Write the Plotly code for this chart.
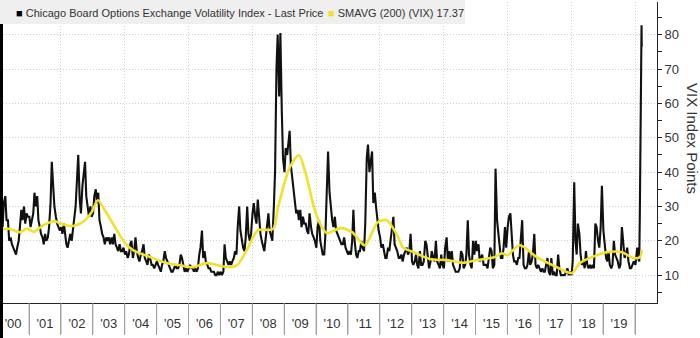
import plotly.graph_objects as go

# ---------------- data ----------------
years = list(range(2000, 2020))

# two readings per month (1st half, 2nd half), Jan..Dec
vix_2000 = [23, 24, 22, 25, 24, 31, 33, 26, 26, 20, 21, 19, 18, 17, 16, 18, 20, 24, 29, 26, 30, 25, 28, 27]
vix_2001 = [27, 24, 26, 28, 34, 30, 33, 26, 24, 22, 21, 19, 22, 20, 21, 24, 31, 43, 36, 30, 27, 25, 24, 23]
vix_2002 = [24, 22, 25, 21, 19, 18, 21, 22, 20, 23, 26, 30, 38, 45, 32, 28, 36, 40, 43, 33, 29, 27, 30, 27]
vix_2003 = [28, 33, 35, 31, 34, 26, 24, 22, 21, 19, 21, 20, 21, 19, 21, 19, 22, 19, 18, 17, 19, 17, 17, 18]
vix_2004 = [16, 17, 15, 16, 19, 20, 15, 17, 21, 17, 15, 14, 16, 17, 19, 15, 14, 13, 16, 15, 13, 13, 12, 13]
vix_2005 = [14, 13, 12, 11, 13, 14, 17, 15, 14, 13, 12, 11, 11, 12, 13, 12, 12, 13, 16, 15, 12, 11, 12, 11]
vix_2006 = [12, 13, 12, 12, 11, 12, 11, 12, 16, 18, 23, 15, 17, 14, 13, 12, 12, 11, 11, 11, 10, 10, 11, 10]
vix_2007 = [11, 10, 11, 19, 15, 14, 13, 14, 13, 14, 15, 17, 16, 24, 30, 23, 20, 18, 17, 21, 30, 22, 20, 22]
vix_2008 = [28, 31, 27, 25, 32, 26, 22, 20, 18, 17, 21, 24, 28, 23, 21, 20, 30, 40, 70, 80, 62, 80.5, 58, 44]
vix_2009 = [40, 47, 45, 50, 52, 42, 38, 35, 32, 28, 29, 26, 29, 24, 27, 25, 25, 23, 22, 28, 24, 22, 21, 20]
vix_2010 = [18, 24, 26, 20, 18, 16, 16, 22, 35, 46, 34, 29, 26, 24, 27, 23, 22, 21, 20, 19, 19, 21, 18, 17]
vix_2011 = [16, 17, 16, 20, 29, 20, 16, 15, 17, 17, 20, 18, 17, 25, 44, 48, 40, 43, 46, 31, 34, 30, 26, 23]
vix_2012 = [21, 18, 19, 17, 15, 15, 18, 17, 20, 24, 27, 19, 18, 17, 15, 15, 16, 14, 16, 17, 18, 16, 17, 22]
vix_2013 = [14, 13, 14, 16, 13, 12, 17, 13, 13, 14, 20, 19, 14, 12, 14, 17, 15, 14, 20, 14, 13, 12, 16, 13]
vix_2014 = [12, 18, 21, 14, 17, 14, 17, 13, 12, 11, 11, 11, 12, 17, 16, 12, 13, 16, 26, 16, 13, 12, 20, 16]
vix_2015 = [20, 17, 19, 14, 15, 16, 13, 13, 13, 12, 15, 18, 17, 12, 13, 41, 26, 22, 17, 15, 15, 18, 24, 18]
vix_2016 = [24, 27, 28, 21, 16, 14, 14, 13, 15, 15, 20, 26, 13, 12, 12, 13, 17, 13, 14, 16, 22, 13, 12, 13]
vix_2017 = [12, 11, 12, 11, 11, 13, 15, 11, 10, 15, 10, 11, 10, 10, 16, 12, 10, 10, 10, 10, 11, 12, 10, 11]
vix_2018 = [10, 14, 37, 20, 16, 25, 22, 16, 13, 14, 12, 17, 13, 12, 13, 12, 13, 12, 25, 24, 20, 18, 24, 36]
vix_2019 = [23, 18, 15, 14, 17, 13, 12, 13, 20, 16, 15, 14, 12, 13, 24, 19, 15, 16, 18, 14, 12, 12, 13, 14]

vix_2020_dates = ["2020-01-06", "2020-01-27", "2020-02-04", "2020-02-19", "2020-02-25",
                  "2020-02-28", "2020-03-09", "2020-03-12", "2020-03-16", "2020-03-18"]
vix_2020 = [13, 18, 15, 14, 27, 40, 54, 75.5, 82.7, 76.5]

sma_dates = ["2000-02-03", "2000-05-15", "2000-09-20", "2000-12-01", "2001-01-25", "2001-03-01",
             "2001-06-10", "2001-10-22", "2001-12-20", "2002-05-18", "2002-09-10", "2002-12-20",
             "2003-02-28", "2003-05-18", "2003-09-12", "2004-01-05", "2004-04-05", "2004-10-15",
             "2005-05-01", "2005-09-24", "2006-02-20", "2006-07-30", "2007-01-20", "2007-04-20",
             "2007-07-15", "2007-10-30", "2008-03-08", "2008-08-25", "2008-10-22", "2009-03-08",
             "2009-06-18", "2009-08-25", "2010-01-12", "2010-05-05", "2010-10-01", "2011-02-17",
             "2011-07-12", "2011-12-08", "2012-03-20", "2012-07-20", "2012-09-25", "2013-01-15",
             "2013-07-25", "2014-02-10", "2014-08-10", "2015-01-20", "2015-08-10", "2015-10-30",
             "2015-12-28", "2016-05-22", "2016-12-05", "2017-06-05", "2018-01-08", "2018-04-08",
             "2018-10-22", "2019-02-14", "2019-08-05", "2019-12-10", "2020-02-28", "2020-03-18"]
sma_vals = [23.2, 23.5, 22.5, 23.5, 23.0, 22.6,
            24.5, 25.7, 25.1, 24.3, 25.5, 28.4,
            31.8, 28.9, 24.0, 19.3, 17.3, 15.3,
            13.5, 12.9, 12.3, 13.5, 12.6, 12.3,
            13.0, 17.3, 23.1, 23.4, 29.8, 41.5,
            44.9, 40.5, 26.9, 22.2, 23.7, 22.5,
            18.7, 25.4, 26.0, 21.5, 18.0, 16.8,
            14.7, 14.4, 13.6, 14.4, 15.3, 16.4,
            15.8, 18.7, 15.2, 12.9, 10.6, 13.5,
            15.8, 16.7, 16.7, 15.0, 15.3, 17.37]

grid_years = list(range(2002, 2021, 2))
boundary_years = list(range(2001, 2021))

legend_name_1 = "Chicago Board Options Exchange Volatility Index - Last Price"
legend_name_2 = "SMAVG (200) (VIX) 17.37"
y_title = "VIX Index Points"

# ---------------- build series ----------------
yearly = [vix_2000, vix_2001, vix_2002, vix_2003, vix_2004, vix_2005, vix_2006, vix_2007,
          vix_2008, vix_2009, vix_2010, vix_2011, vix_2012, vix_2013, vix_2014, vix_2015,
          vix_2016, vix_2017, vix_2018, vix_2019]
vix_dates, vix_vals = [], []
for y, vals in zip(years, yearly):
    k = 0
    for m in range(1, 13):
        for d in (4, 18):
            vix_dates.append(f"{y}-{m:02d}-{d:02d}")
            vix_vals.append(vals[k])
            k += 1
vix_dates += vix_2020_dates
vix_vals += vix_2020

FONT = "Liberation Sans"
W, H = 700, 338
ML, MR, MT, MB = 0, 43, 2, 35
PW, PH = W - ML - MR, H - MT - MB


def px_x(p):
    return (p - ML) / PW


def px_y(p):
    return (H - MB - p) / PH


x_range = ["2000-02-03", "2020-09-09"]
GRID = "#cfcfcf"
GRID_DASH = "1px,2px"

fig = go.Figure()
fig.add_trace(go.Scatter(x=vix_dates, y=vix_vals, mode="lines",
                         line=dict(color="#111111", width=2.1),
                         name=legend_name_1, showlegend=False, hoverinfo="skip"))
fig.add_trace(go.Scatter(x=sma_dates, y=sma_vals, mode="lines", xaxis="x2",
                         line=dict(color="#f2e12a", width=2.6, shape="spline", smoothing=0.8),
                         name=legend_name_2, showlegend=False, hoverinfo="skip"))

# year separators below the time axis
separators = [dict(type="line", xref="x", yref="paper",
                   x0=f"{y}-01-01", x1=f"{y}-01-01", y0=0, y1=-31 / PH,
                   line=dict(color="#a0a0a0", width=1), layer="above")
              for y in boundary_years]

fig.update_layout(
    width=W, height=H,
    margin=dict(l=ML, r=MR, t=MT, b=MB),
    paper_bgcolor="white", plot_bgcolor="white",
    font=dict(family=FONT, color="#333333"),
    xaxis=dict(
        type="date", range=x_range,
        tickmode="linear", tick0="2000-01-01", dtick="M12",
        tickformat="'%y", ticklabelmode="period",
        labelalias={"'20": " "},
        ticks="outside", ticklen=31, tickwidth=1, tickcolor="#a0a0a0",
        ticklabelstandoff=-23,
        tickfont=dict(size=13, color="#333333"),
        showline=True, linecolor="#222222", linewidth=1,
        showgrid=False, zeroline=False,
    ),
    xaxis2=dict(
        type="date", range=x_range, overlaying="x", anchor="y",
        tickmode="array", tickvals=[f"{y}-01-01" for y in grid_years],
        showticklabels=False, ticks="",
        showgrid=True, gridcolor=GRID, griddash=GRID_DASH, gridwidth=1,
        showline=False, zeroline=False,
    ),
    yaxis=dict(
        side="right", range=[1.9, 89.5],
        tickmode="linear", tick0=0, dtick=10,
        ticks="outside", ticklen=4, tickcolor="#222222",
        tickfont=dict(size=13, color="#333333"),
        showline=True, linecolor="#222222", linewidth=1,
        showgrid=True, gridcolor=GRID, griddash=GRID_DASH, gridwidth=1,
        zeroline=False,
        minor=dict(tick0=0, dtick=5, ticks="outside", ticklen=4, tickcolor="#222222", showgrid=False),
    ),
    shapes=separators + [
        # legend band
        dict(type="rect", xref="paper", yref="paper", x0=px_x(0), x1=px_x(465),
             y0=px_y(24), y1=px_y(0), fillcolor="#efefef", line=dict(width=0), layer="above"),
        # dark frame strip on the left edge
        dict(type="rect", xref="paper", yref="paper", x0=px_x(0), x1=px_x(3),
             y0=px_y(338), y1=px_y(24), fillcolor="#000000", line=dict(width=0), layer="above"),
    ],
    annotations=[
        dict(xref="paper", yref="paper", x=px_x(14), y=px_y(13), xanchor="left", yanchor="middle",
             showarrow=False, align="left",
             text="<span style='color:#000000'>■</span> " + legend_name_1,
             font=dict(size=11, color="#333333", family=FONT)),
        dict(xref="paper", yref="paper", x=px_x(326), y=px_y(13), xanchor="left", yanchor="middle",
             showarrow=False, align="left",
             text="<span style='color:#f2e12a'>■</span> " + legend_name_2,
             font=dict(size=11, color="#333333", family=FONT)),
        dict(xref="paper", yref="paper", x=px_x(693), y=px_y(138), xanchor="center", yanchor="middle",
             showarrow=False, textangle=90, text=y_title,
             font=dict(size=15, color="#333333", family=FONT)),
        dict(xref="paper", yref="paper", x=px_x(4), y=px_y(344), xanchor="left", yanchor="middle",
             showarrow=False, text="Source: Bloomberg",
             font=dict(size=12, color="#333333", family=FONT)),
    ],
)

fig.write_html("out.html")
